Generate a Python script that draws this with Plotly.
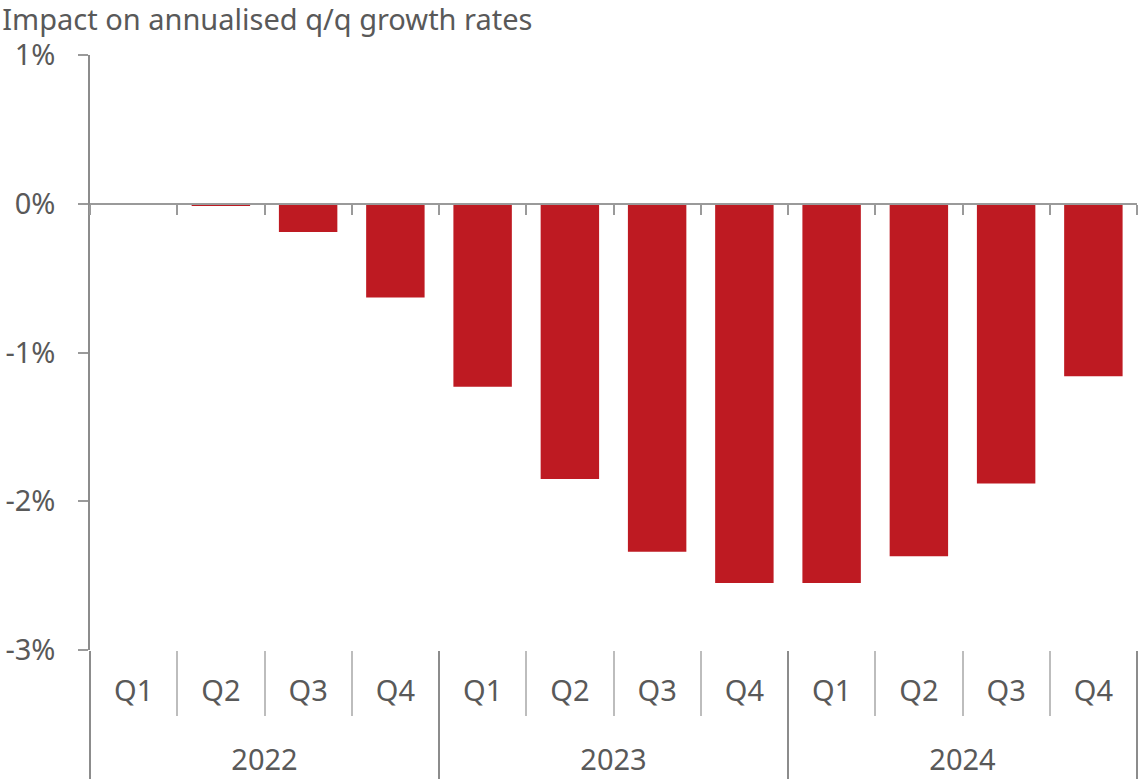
import plotly.graph_objects as go

years = ["2022"] * 4 + ["2023"] * 4 + ["2024"] * 4
quarters = ["Q1", "Q2", "Q3", "Q4"] * 3
values = [0.0, -0.015, -0.19, -0.63, -1.23, -1.85, -2.34, -2.55, -2.55, -2.37, -1.88, -1.16]
y_ticks = [-3, -2, -1, 0, 1]
y_ticktext = ["-3%", "-2%", "-1%", "0%", "1%"]
title_text = "Impact on annualised q/q growth rates"

BAR = "#BE1A22"
AXIS = "#9a9a9a"
YEARDIV = "#8c8c8c"
QDIV = "#bdbdbd"
TXT = "#595959"
FONT = "Noto Sans"
FS = 29

n = len(values)
idx = list(range(n))
ymin, ymax = y_ticks[0], y_ticks[-1]
boundaries = [i - 0.5 for i in range(n + 1)]

# year groups derived from the year list
year_names, year_start = [], []
for i, yv in enumerate(years):
    if i == 0 or yv != years[i - 1]:
        year_names.append(yv)
        year_start.append(i)
year_end = year_start[1:] + [n]
year_centers = [(s + e - 1) / 2 for s, e in zip(year_start, year_end)]
year_bounds = [s - 0.5 for s in year_start] + [n - 0.5]
quarter_bounds = [b for b in boundaries if b not in year_bounds]

fig = go.Figure()
fig.add_trace(go.Bar(x=idx, y=values, marker_color=BAR, width=0.67,
                     marker_line_width=0, xaxis="x", yaxis="y", showlegend=False))

common = dict(range=[-0.5, n - 0.5], showgrid=False, zeroline=False, automargin=False)

fig.update_layout(
    width=1140, height=779,
    margin=dict(l=90, r=3, t=55, b=129),
    paper_bgcolor="white", plot_bgcolor="white",
    font=dict(family=FONT, color=TXT, size=FS),
    title=dict(text=title_text, x=0.002, xref="container", xanchor="left",
               y=1 - 19.5 / 779, yref="container", yanchor="middle",
               font=dict(size=FS, color=TXT, family=FONT), automargin=False),
    # quarter labels
    xaxis=dict(anchor="y", showline=False, ticks="", tickmode="array",
               tickvals=idx, ticktext=quarters, ticklabelstandoff=21,
               tickfont=dict(size=FS, color=TXT), **common),
    # zero line with boundary ticks
    xaxis2=dict(overlaying="x", anchor="free",
                position=(0 - ymin) / (ymax - ymin),
                showline=True, linecolor=AXIS, linewidth=1.5,
                ticks="outside", ticklen=10, tickcolor=AXIS, tickwidth=1.5,
                tickmode="array", tickvals=boundaries, showticklabels=False,
                layer="above traces", **common),
    # quarter separators
    xaxis3=dict(overlaying="x", anchor="y", side="bottom", showline=False,
                ticks="outside", ticklen=65, tickcolor=QDIV, tickwidth=1.5,
                tickmode="array", tickvals=quarter_bounds, showticklabels=False,
                **common),
    # year labels
    xaxis4=dict(overlaying="x", anchor="y", side="bottom", showline=False,
                ticks="", tickmode="array", tickvals=year_centers, ticktext=year_names,
                ticklabelstandoff=90, tickfont=dict(size=FS, color=TXT), **common),
    # year separators
    xaxis5=dict(overlaying="x", anchor="y", side="bottom", showline=False,
                ticks="outside", ticklen=135, tickcolor=YEARDIV, tickwidth=1.5,
                tickmode="array", tickvals=year_bounds, showticklabels=False,
                **common),
    yaxis=dict(range=[ymin, ymax], tickmode="array", tickvals=y_ticks,
               ticktext=y_ticktext, showline=True, linecolor=YEARDIV, linewidth=1.5,
               ticks="outside", ticklen=10, tickcolor=AXIS, tickwidth=1.5,
               showgrid=False, zeroline=False, ticklabelstandoff=17, automargin=False,
               tickfont=dict(size=FS, color=TXT)),
)

# invisible helper traces so the overlay axes are drawn
for ax in ["x2", "x3", "x4", "x5"]:
    fig.add_trace(go.Scatter(x=[boundaries[0], boundaries[-1]], y=[0, 0], xaxis=ax, yaxis="y",
                             mode="lines", line=dict(width=0), hoverinfo="skip",
                             showlegend=False))

fig.write_html("out.html")
